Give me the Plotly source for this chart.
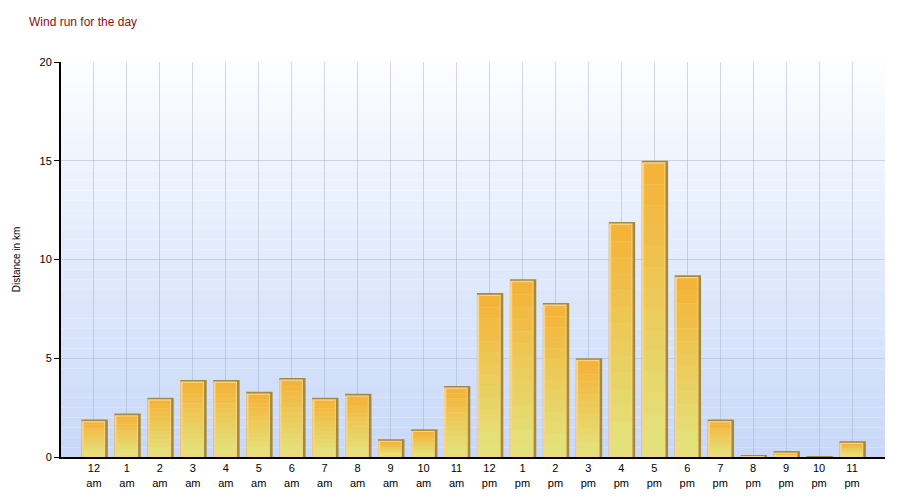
import plotly.graph_objects as go

hours = ["12<br>am", "1<br>am", "2<br>am", "3<br>am", "4<br>am", "5<br>am",
         "6<br>am", "7<br>am", "8<br>am", "9<br>am", "10<br>am", "11<br>am",
         "12<br>pm", "1<br>pm", "2<br>pm", "3<br>pm", "4<br>pm", "5<br>pm",
         "6<br>pm", "7<br>pm", "8<br>pm", "9<br>pm", "10<br>pm", "11<br>pm"]
wind_run_km = [1.9, 2.2, 3.0, 3.9, 3.9, 3.3, 4.0, 3.0, 3.2, 0.9, 1.4, 3.6,
               8.3, 9.0, 7.8, 5.0, 11.9, 15.0, 9.2, 1.9, 0.1, 0.3, 0.05, 0.8]


def mix(c1, c2, t):
    return "rgb(%d,%d,%d)" % tuple(round(a + (b - a) * t) for a, b in zip(c1, c2))


fig = go.Figure()

# 3D look: dark side, light lip, then gradient front face
fig.add_trace(go.Bar(x=hours, y=wind_run_km, width=0.8, offset=-0.38,
                     marker=dict(color="#a48a3e", line_width=0), hoverinfo="skip"))
fig.add_trace(go.Bar(x=hours, y=[max(v - 0.08, 0) for v in wind_run_km], width=0.72, offset=-0.38,
                     marker=dict(color="#f9d385", line_width=0), hoverinfo="skip"))

top_col = (245, 178, 55)
bot_col = (226, 228, 125)
n_seg = 14
lip = 0.15
foot = 0.12
for k in range(n_seg):
    bases, heights = [], []
    for v in wind_run_km:
        h = max(v - lip - foot, 0)
        bases.append(foot + h * k / n_seg)
        heights.append(h / n_seg)
    fig.add_trace(go.Bar(x=hours, y=heights, base=bases, width=0.62, offset=-0.31,
                         marker=dict(color=mix(bot_col, top_col, (k + 0.5) / n_seg), line_width=0),
                         hoverinfo="skip"))

# background gradient (white at top to light blue at bottom)
n_bg = 40
for i in range(n_bg):
    fig.add_shape(type="rect", xref="x domain", yref="y domain",
                  x0=0, x1=1, y0=i / n_bg, y1=(i + 1) / n_bg,
                  fillcolor=mix((200, 216, 249), (252, 253, 255), (i + 0.5) / n_bg),
                  line_width=0, layer="below")

# page body adds an 8px offset, so margins are shifted to compensate
fig.update_layout(
    barmode="overlay",
    showlegend=False,
    width=900, height=500,
    margin=dict(l=53, r=23, t=54, b=51, autoexpand=False),
    paper_bgcolor="white",
    plot_bgcolor="rgba(0,0,0,0)",
    font=dict(family="Liberation Sans, Arial, sans-serif", size=11, color="black"),
    title=dict(text="Wind run for the day", x=21 / 900, xanchor="left", y=1 - 14 / 500, yanchor="middle",
               font=dict(size=12, color="#8b1010")),
)
fig.update_xaxes(type="category", range=[-1, 24], showgrid=True, gridcolor="rgba(160,170,190,0.45)",
                 gridwidth=1, showline=True, linecolor="black", linewidth=2, ticks="",
                 tickfont=dict(size=11), fixedrange=True, automargin=False)
fig.update_yaxes(range=[0, 20], dtick=5, showgrid=True, gridcolor="rgba(160,170,190,0.45)",
                 gridwidth=1, showline=True, linecolor="black", linewidth=2, ticks="outside",
                 ticklen=5, tickcolor="black", zeroline=False, fixedrange=True, automargin=False,
                 title=dict(text="Distance in km", font=dict(size=10), standoff=17))

fig.write_html("out.html")
